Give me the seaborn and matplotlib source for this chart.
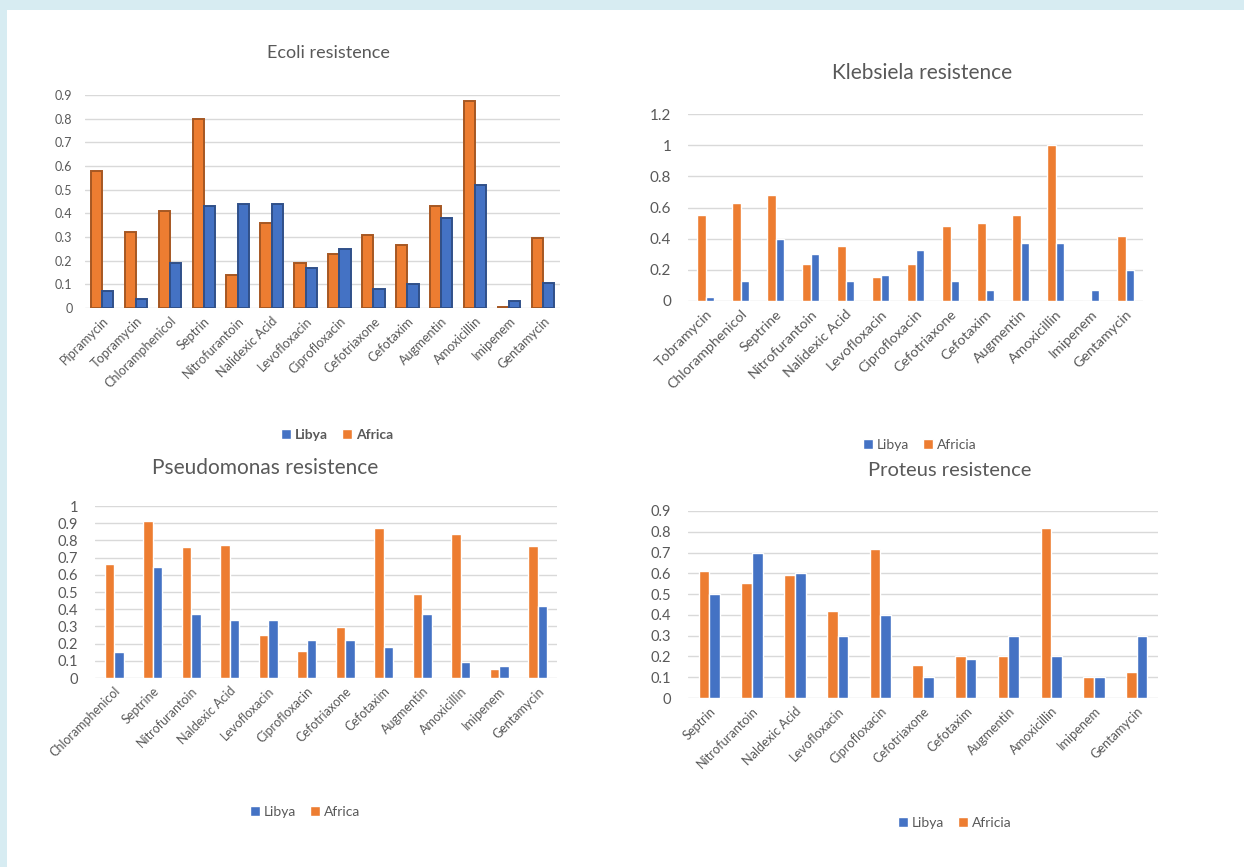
import numpy as np
import pandas as pd
import matplotlib
matplotlib.use("Agg")
import matplotlib.pyplot as plt
import seaborn as sns
from matplotlib.patches import Patch, Rectangle

sns.set_theme(style="white")
plt.rcParams['font.family'] = ['Lato', 'DejaVu Sans']

ORANGE = "#ED7D31"
BLUE = "#4472C4"
GRAY = "#595959"

# ---------------- data ----------------
ecoli_cats = ["Pipramycin", "Topramycin", "Chloramphenicol", "Septrin", "Nitrofurantoin",
              "Nalidexic Acid", "Levofloxacin", "Ciprofloxacin", "Cefotriaxone", "Cefotaxim",
              "Augmentin", "Amoxicillin", "Imipenem", "Gentamycin"]
ecoli_africa = [0.58, 0.32, 0.41, 0.80, 0.14, 0.36, 0.19, 0.23, 0.31, 0.265, 0.43, 0.875, 0.005, 0.295]
ecoli_libya = [0.07, 0.04, 0.19, 0.43, 0.44, 0.44, 0.17, 0.25, 0.08, 0.10, 0.38, 0.52, 0.03, 0.105]

kleb_cats = ["Tobramycin", "Chloramphenicol", "Septrine", "Nitrofurantoin", "Nalidexic Acid",
             "Levofloxacin", "Ciprofloxacin", "Cefotriaxone", "Cefotaxim", "Augmentin",
             "Amoxicillin", "Imipenem", "Gentamycin"]
kleb_africa = [0.55, 0.63, 0.68, 0.24, 0.35, 0.155, 0.24, 0.48, 0.50, 0.55, 1.0, 0.0, 0.42]
kleb_libya = [0.028, 0.13, 0.40, 0.30, 0.13, 0.17, 0.33, 0.13, 0.07, 0.37, 0.37, 0.07, 0.20]

pseudo_cats = ["Chloramphenicol", "Septrine", "Nitrofurantoin", "Naldexic Acid", "Levofloxacin",
               "Ciprofloxacin", "Cefotriaxone", "Cefotaxim", "Augmentin", "Amoxicillin",
               "Imipenem", "Gentamycin"]
pseudo_africa = [0.66, 0.91, 0.76, 0.775, 0.25, 0.155, 0.295, 0.87, 0.49, 0.84, 0.05, 0.765]
pseudo_libya = [0.15, 0.645, 0.375, 0.335, 0.335, 0.22, 0.22, 0.18, 0.375, 0.093, 0.068, 0.42]

prot_cats = ["Septrin", "Nitrofurantoin", "Naldexic Acid", "Levofloxacin", "Ciprofloxacin",
             "Cefotriaxone", "Cefotaxim", "Augmentin", "Amoxicillin", "Imipenem", "Gentamycin"]
prot_africa = [0.61, 0.555, 0.59, 0.42, 0.715, 0.16, 0.20, 0.20, 0.82, 0.10, 0.125]
prot_libya = [0.50, 0.70, 0.60, 0.30, 0.40, 0.10, 0.19, 0.30, 0.20, 0.10, 0.30]

ecoli_ticks = [0, 0.1, 0.2, 0.3, 0.4, 0.5, 0.6, 0.7, 0.8, 0.9]
kleb_ticks = [0, 0.2, 0.4, 0.6, 0.8, 1.0, 1.2]
pseudo_ticks = [0, 0.1, 0.2, 0.3, 0.4, 0.5, 0.6, 0.7, 0.8, 0.9, 1.0]
prot_ticks = [0, 0.1, 0.2, 0.3, 0.4, 0.5, 0.6, 0.7, 0.8, 0.9]

# ---------------- figure ----------------
fig = plt.figure(figsize=(12.44, 8.67), dpi=100)
fig.patch.set_facecolor("#d7ecf2")
W, H = 1244, 867
bg = Rectangle((7 / W, 0), 1 - 7 / W, 1 - 10 / H, transform=fig.transFigure,
               facecolor="white", edgecolor="none", zorder=-10)
fig.patches.append(bg)


def px_axes(x0, y0, x1, y1):
    return fig.add_axes([x0 / W, 1 - y1 / H, (x1 - x0) / W, (y1 - y0) / H], zorder=5)


def panel(ax, cats, africa, libya, ticks, width, tfs, ytfs, ypad=12, edge=False):
    df = pd.DataFrame({
        "drug": cats * 2,
        "value": list(africa) + list(libya),
        "region": ["Africa"] * len(cats) + ["Libya"] * len(cats),
    })
    kw = {}
    if edge:
        kw = dict(linewidth=1.4)
    sns.barplot(data=df, x="drug", y="value", hue="region", hue_order=["Africa", "Libya"],
                palette={"Africa": ORANGE, "Libya": BLUE}, width=width, ax=ax,
                saturation=1, legend=False, **kw)
    if edge:
        for p in ax.patches:
            c = p.get_facecolor()
            p.set_edgecolor((c[0] * 0.7, c[1] * 0.7, c[2] * 0.7, 1))
    ax.set_facecolor("none")
    ax.set_xlim(-0.5, len(cats) - 0.5)
    ax.set_ylim(0, ticks[-1])
    ax.set_yticks(ticks)
    ax.set_yticklabels([f"{t:g}" for t in ticks], fontsize=ytfs, color=GRAY)
    ax.set_xticks(range(len(cats)))
    ax.set_xticklabels(cats, rotation=45, ha="right", rotation_mode="anchor",
                       fontsize=tfs, color=GRAY)
    ax.set_xlabel("")
    ax.set_ylabel("")
    ax.grid(axis="y", color="#d9d9d9", linewidth=1)
    ax.set_axisbelow(True)
    for s in ax.spines.values():
        s.set_visible(False)
    ax.tick_params(axis="both", length=0, pad=5)
    ax.tick_params(axis="y", pad=ypad)


ax1 = px_axes(85, 95, 560, 308)
panel(ax1, ecoli_cats, ecoli_africa, ecoli_libya, ecoli_ticks, 0.66, 9.2, 9, ypad=9, edge=True)
ax2 = px_axes(688, 114, 1143, 301)
panel(ax2, kleb_cats, kleb_africa, kleb_libya, kleb_ticks, 0.46, 10.3, 11)
ax3 = px_axes(95, 506, 557, 678)
panel(ax3, pseudo_cats, pseudo_africa, pseudo_libya, pseudo_ticks, 0.5, 9, 10.5)
ax4 = px_axes(688, 511, 1158, 698)
panel(ax4, prot_cats, prot_africa, prot_libya, prot_ticks, 0.5, 9.2, 10.5)


def ftext(x, y, s, size, **kw):
    fig.text(x / W, 1 - y / H, s, ha="center", va="center", fontsize=size, color=GRAY, **kw)


ftext(328, 53, "Ecoli resistence", 13)
ftext(922, 73, "Klebsiela resistence", 15)
ftext(265, 468, "Pseudomonas resistence", 15)
ftext(950, 471, "Proteus resistence", 14.5)


def legend(x, y, labels, size, bold=False):
    handles = [Patch(facecolor=BLUE, label=labels[0]), Patch(facecolor=ORANGE, label=labels[1])]
    leg = fig.legend(handles=handles, loc="center", bbox_to_anchor=(x / W, 1 - y / H),
                     ncol=2, frameon=False, handlelength=0.7, handleheight=0.7,
                     handletextpad=0.3, columnspacing=1.0,
                     prop={"size": size, "weight": "bold" if bold else "normal"})
    for t in leg.get_texts():
        t.set_color(GRAY)


legend(337, 435, ["Libya", "Africa"], 10, bold=True)
legend(920, 445, ["Libya", "Africia"], 10)
legend(305, 812, ["Libya", "Africa"], 10)
legend(955, 823, ["Libya", "Africia"], 10)

fig.savefig("out.png", dpi=100, facecolor=fig.get_facecolor())
